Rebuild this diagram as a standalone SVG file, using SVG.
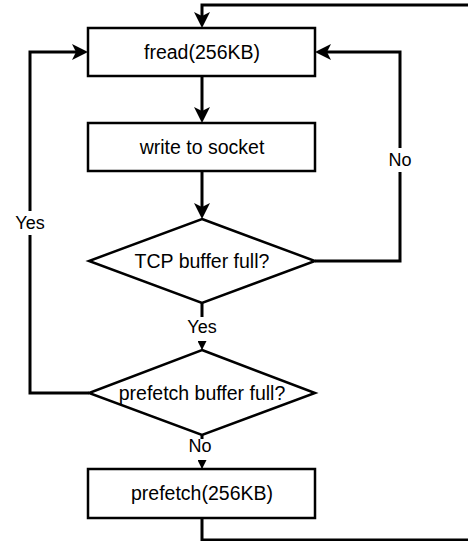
<svg xmlns="http://www.w3.org/2000/svg" width="468" height="541" viewBox="0 0 468 541">
  <style>
    .node { fill: #ffffff; stroke: #000000; stroke-width: 2.5; }
    .conn { fill: none; stroke: #000000; stroke-width: 3; }
    .thin { fill: none; stroke: #000000; stroke-width: 1; }
    .txt { font-family: "Liberation Sans", Arial, Helvetica, sans-serif; font-size: 19.5px; fill: #000000; text-anchor: middle; }
    .lbl { font-family: "Liberation Sans", Arial, Helvetica, sans-serif; font-size: 18px; fill: #000000; text-anchor: middle; }
    .lblbg { fill: #ffffff; stroke: none; }
  </style>
  <defs>
    <marker id="arrow" markerUnits="userSpaceOnUse" viewBox="0 0 16 16" markerWidth="16" markerHeight="16" refX="11" refY="8" orient="auto">
      <path d="M0,0 L16,8 L0,16 L4,8 Z" fill="#000000"/>
    </marker>
    <marker id="small" markerUnits="userSpaceOnUse" viewBox="0 0 9 9" markerWidth="9" markerHeight="9" refX="9" refY="4.5" orient="auto">
      <path d="M0,0 L9,4.5 L0,9 Z" fill="#000000"/>
    </marker>
  </defs>

  <g id="connectors">
    <path class="conn" d="M202,76 V118" marker-end="url(#arrow)"/>
    <path class="conn" d="M202,171 V214" marker-end="url(#arrow)"/>
    <path class="conn" d="M315,261 H400 V52 H320" marker-end="url(#arrow)"/>
    <path class="conn" d="M89,393 H30 V52 H83" marker-end="url(#arrow)"/>
    <path class="conn" d="M202,518 V540 H475 V5 H202 V23" marker-end="url(#arrow)"/>
    <path class="conn" d="M202,303 V317"/>
    <path class="thin" d="M202,342 V350" marker-end="url(#small)"/>
    <path class="conn" d="M202,435 V439"/>
    <path class="thin" d="M202,461 V469" marker-end="url(#small)"/>
    <rect class="lblbg" x="386" y="148" width="28" height="24"/>
    <text class="lbl" x="400" y="166">No</text>
    <rect class="lblbg" x="14" y="211" width="32" height="24"/>
    <text class="lbl" x="30" y="229">Yes</text>
    <text class="lbl" x="202" y="333">Yes</text>
    <text class="lbl" x="200" y="452">No</text>
  </g>

  <g id="fread">
    <rect class="node" x="88" y="28" width="227" height="48"/>
    <text class="txt" x="202" y="59">fread(256KB)</text>
  </g>
  <g id="write">
    <rect class="node" x="88" y="123" width="227" height="48"/>
    <text class="txt" x="202" y="154">write to socket</text>
  </g>
  <g id="tcp">
    <polygon class="node" points="202,219 315,261 202,303 89,261"/>
    <text class="txt" x="202" y="268">TCP buffer full?</text>
  </g>
  <g id="prefetch-full">
    <polygon class="node" points="202,350 315,393 202,435 89,393"/>
    <text class="txt" x="202" y="400">prefetch buffer full?</text>
  </g>
  <g id="prefetch">
    <rect class="node" x="88" y="469" width="227" height="49"/>
    <text class="txt" x="202" y="500">prefetch(256KB)</text>
  </g>
</svg>
